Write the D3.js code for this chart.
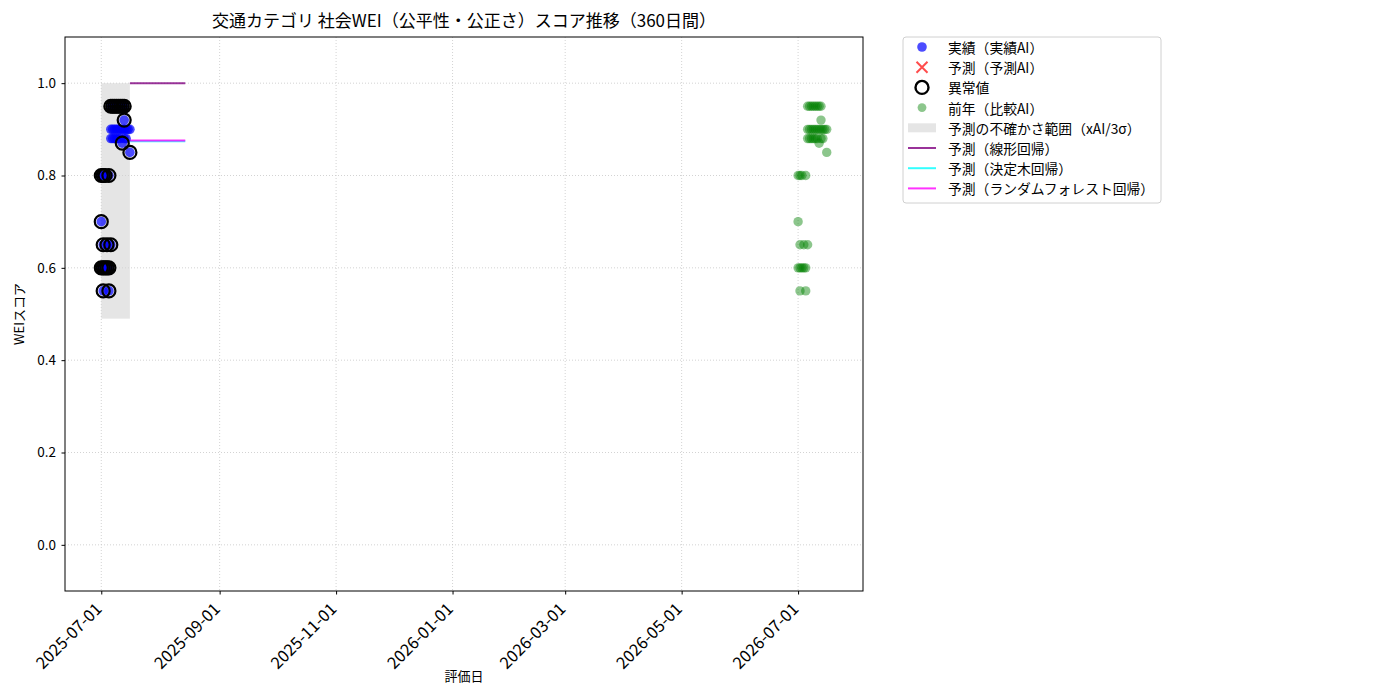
<!DOCTYPE html>
<html>
<head>
<meta charset="utf-8">
<script src="https://cdn.jsdelivr.net/npm/d3@7"></script>
<style>
  body { margin: 0; background: #fff; }
  svg text { font-family: "Noto Sans CJK JP", "DejaVu Sans", sans-serif; }
</style>
</head>
<body>
<div id="chart"></div>
<script>
// ----------------------------------------------- //
// Data
var actualDates = [
    "2025-07-01", "2025-07-01", "2025-07-01", "2025-07-02", "2025-07-02", "2025-07-02", "2025-07-02",
    "2025-07-03", "2025-07-03", "2025-07-04", "2025-07-04", "2025-07-05", "2025-07-05", "2025-07-05",
    "2025-07-06", "2025-07-06", "2025-07-06", "2025-07-06", "2025-07-07", "2025-07-07", "2025-07-07",
    "2025-07-08", "2025-07-08", "2025-07-08", "2025-07-09", "2025-07-09", "2025-07-09",
    "2025-07-10", "2025-07-10", "2025-07-10", "2025-07-11", "2025-07-11", "2025-07-11",
    "2025-07-12", "2025-07-12", "2025-07-12", "2025-07-13", "2025-07-13", "2025-07-13", "2025-07-13",
    "2025-07-14", "2025-07-14", "2025-07-15", "2025-07-16", "2025-07-16"
];
var actualValues = [
    0.80, 0.70, 0.60, 0.80, 0.65, 0.60, 0.55,
    0.80, 0.60, 0.65, 0.60, 0.80, 0.60, 0.55,
    0.95, 0.90, 0.88, 0.65, 0.95, 0.90, 0.88,
    0.95, 0.90, 0.88, 0.95, 0.90, 0.88,
    0.95, 0.90, 0.88, 0.95, 0.90, 0.88,
    0.95, 0.90, 0.87, 0.95, 0.92, 0.90, 0.88,
    0.90, 0.88, 0.90, 0.85, 0.90
];
// anomaly flags (1 = outlier ring)
var actualOutlier = [
    1, 1, 1, 1, 1, 1, 1,
    1, 1, 1, 1, 1, 1, 1,
    1, 0, 0, 1, 1, 0, 0,
    1, 0, 0, 1, 0, 0,
    1, 0, 0, 1, 0, 0,
    1, 0, 1, 1, 1, 0, 0,
    0, 0, 0, 1, 0
];

// previous year (comparison AI)
var prevDates = [
    "2026-07-01", "2026-07-01", "2026-07-01", "2026-07-02", "2026-07-02", "2026-07-02", "2026-07-02",
    "2026-07-03", "2026-07-03", "2026-07-04", "2026-07-04", "2026-07-05", "2026-07-05", "2026-07-05",
    "2026-07-06", "2026-07-06", "2026-07-06", "2026-07-06", "2026-07-07", "2026-07-07", "2026-07-07",
    "2026-07-08", "2026-07-08", "2026-07-08", "2026-07-09", "2026-07-09", "2026-07-09",
    "2026-07-10", "2026-07-10", "2026-07-10", "2026-07-11", "2026-07-11", "2026-07-11",
    "2026-07-12", "2026-07-12", "2026-07-12", "2026-07-13", "2026-07-13", "2026-07-13", "2026-07-13",
    "2026-07-14", "2026-07-14", "2026-07-15", "2026-07-16", "2026-07-16"
];
var prevValues = [
    0.80, 0.70, 0.60, 0.80, 0.65, 0.60, 0.55,
    0.80, 0.60, 0.65, 0.60, 0.80, 0.60, 0.55,
    0.95, 0.90, 0.88, 0.65, 0.95, 0.90, 0.88,
    0.95, 0.90, 0.88, 0.95, 0.90, 0.88,
    0.95, 0.90, 0.88, 0.95, 0.90, 0.88,
    0.95, 0.90, 0.87, 0.95, 0.92, 0.90, 0.88,
    0.90, 0.88, 0.90, 0.85, 0.90
];

// uncertainty band (xAI / 3 sigma)
var bandDates = ["2025-07-01", "2025-07-16"];
var bandLow = 0.49;
var bandHigh = 1.0;

// prediction lines
var predDates = ["2025-07-16", "2025-08-14"];
var predLinear = [1.0, 1.0];
var predTree = [0.874, 0.874];
var predForest = [0.876, 0.876];

// axes
var xDomain = ["2025-06-12", "2026-08-04"];
var xTickDates = ["2025-07-01", "2025-09-01", "2025-11-01", "2026-01-01", "2026-03-01", "2026-05-01", "2026-07-01"];
var yTicks = [0.0, 0.2, 0.4, 0.6, 0.8, 1.0];

var legendLabels = [
    "実績（実績AI）", "予測（予測AI）", "異常値", "前年（比較AI）",
    "予測の不確かさ範囲（xAI/3σ）", "予測（線形回帰）", "予測（決定木回帰）", "予測（ランダムフォレスト回帰）"
];

// ----------------------------------------------- //
var svgWidth = 1400;
var svgHeight = 700;
var margin = { top: 37, right: 537, bottom: 109, left: 65 };
var chartWidth = svgWidth - margin.left - margin.right;
var chartHeight = svgHeight - margin.top - margin.bottom;

var parseDate = d3.utcParse("%Y-%m-%d");

var svg = d3.select("#chart")
    .append("svg")
    .attr("width", svgWidth)
    .attr("height", svgHeight);

var chartGroup = svg.append("g")
    .attr("transform", `translate(${margin.left}, ${margin.top})`);

var xScale = d3.scaleUtc()
    .domain(xDomain.map(parseDate))
    .range([0, chartWidth]);

var yScale = d3.scaleLinear()
    .domain([-0.1, 1.1])
    .range([chartHeight, 0]);

// grid
chartGroup.append("g")
    .selectAll("line")
    .data(xTickDates)
    .enter()
    .append("line")
    .attr("x1", d => xScale(parseDate(d)))
    .attr("x2", d => xScale(parseDate(d)))
    .attr("y1", 0)
    .attr("y2", chartHeight)
    .attr("stroke", "#c8c8c8")
    .attr("stroke-width", 0.8)
    .attr("stroke-dasharray", "1,2");

chartGroup.append("g")
    .selectAll("line")
    .data(yTicks)
    .enter()
    .append("line")
    .attr("x1", 0)
    .attr("x2", chartWidth)
    .attr("y1", d => yScale(d))
    .attr("y2", d => yScale(d))
    .attr("stroke", "#c8c8c8")
    .attr("stroke-width", 0.8)
    .attr("stroke-dasharray", "1,2");

// uncertainty band
chartGroup.append("rect")
    .attr("x", xScale(parseDate(bandDates[0])))
    .attr("width", xScale(parseDate(bandDates[1])) - xScale(parseDate(bandDates[0])))
    .attr("y", yScale(bandHigh))
    .attr("height", yScale(bandLow) - yScale(bandHigh))
    .attr("fill", "#d3d3d3")
    .attr("opacity", 0.6);

// prediction lines
var predSeries = [
    { values: predLinear, color: "purple", opacity: 0.8 },
    { values: predTree, color: "cyan", opacity: 0.8 },
    { values: predForest, color: "magenta", opacity: 0.8 }
];
var line = d3.line()
    .x(d => xScale(parseDate(d.date)))
    .y(d => yScale(d.value));

predSeries.forEach(function(s) {
    chartGroup.append("path")
        .datum(predDates.map((d, i) => ({ date: d, value: s.values[i] })))
        .attr("d", line)
        .attr("fill", "none")
        .attr("stroke", s.color)
        .attr("stroke-opacity", s.opacity)
        .attr("stroke-width", 2);
});

// actual points
var actualData = actualDates.map((d, i) => ({ date: d, value: actualValues[i], outlier: actualOutlier[i] }));

chartGroup.append("g")
    .selectAll("circle")
    .data(actualData)
    .enter()
    .append("circle")
    .attr("cx", d => xScale(parseDate(d.date)))
    .attr("cy", d => yScale(d.value))
    .attr("r", 4.8)
    .attr("fill", "blue")
    .attr("fill-opacity", 0.7);

// outlier rings
chartGroup.append("g")
    .selectAll("circle")
    .data(actualData.filter(d => d.outlier))
    .enter()
    .append("circle")
    .attr("cx", d => xScale(parseDate(d.date)))
    .attr("cy", d => yScale(d.value))
    .attr("r", 6.5)
    .attr("fill", "none")
    .attr("stroke", "black")
    .attr("stroke-width", 2.2);

// previous year points
chartGroup.append("g")
    .selectAll("circle")
    .data(prevDates.map((d, i) => ({ date: d, value: prevValues[i] })))
    .enter()
    .append("circle")
    .attr("cx", d => xScale(parseDate(d.date)))
    .attr("cy", d => yScale(d.value))
    .attr("r", 4.7)
    .attr("fill", "green")
    .attr("fill-opacity", 0.45);

// axes
var bottomAxis = d3.axisBottom(xScale)
    .tickValues(xTickDates.map(parseDate))
    .tickFormat(d3.utcFormat("%Y-%m-%d"))
    .tickSizeOuter(0)
    .tickSize(3.5);
var leftAxis = d3.axisLeft(yScale)
    .tickValues(yTicks)
    .tickFormat(d3.format(".1f"))
    .tickSizeOuter(0)
    .tickSize(3.5);

var xAxis = chartGroup.append("g")
    .attr("transform", `translate(0, ${chartHeight})`)
    .call(bottomAxis);
xAxis.select(".domain").remove();
xAxis.selectAll("text")
    .attr("font-size", 16.5)
    .attr("fill", "#000")
    .attr("text-anchor", "end")
    .attr("x", 0)
    .attr("y", 0)
    .attr("dy", "0.35em")
    .attr("transform", "translate(-3, 15) rotate(-45)");

var yAxis = chartGroup.append("g").call(leftAxis);
yAxis.select(".domain").remove();
yAxis.selectAll("text")
    .attr("font-size", 13.5)
    .attr("fill", "#000")
    .attr("x", -9);

// frame
chartGroup.append("rect")
    .attr("width", chartWidth)
    .attr("height", chartHeight)
    .attr("fill", "none")
    .attr("stroke", "black")
    .attr("stroke-width", 1);

// titles
svg.append("text")
    .attr("x", margin.left + chartWidth / 2)
    .attr("y", 27)
    .attr("text-anchor", "middle")
    .attr("font-size", 17)
    .text("交通カテゴリ 社会WEI（公平性・公正さ）スコア推移（360日間）");

svg.append("text")
    .attr("x", margin.left + chartWidth / 2)
    .attr("y", 681)
    .attr("text-anchor", "middle")
    .attr("font-size", 13)
    .text("評価日");

svg.append("text")
    .attr("transform", `translate(24, ${margin.top + chartHeight / 2}) rotate(-90)`)
    .attr("text-anchor", "middle")
    .attr("font-size", 13)
    .text("WEIスコア");

// ----------------------------------------------- //
// Legend
var legend = svg.append("g").attr("transform", "translate(903, 37)");
legend.append("rect")
    .attr("width", 258)
    .attr("height", 166)
    .attr("rx", 3)
    .attr("fill", "#fff")
    .attr("stroke", "#d0d0d0");

var rowY = d => 10 + d * 20.2;
var mx = 19;

legend.append("circle").attr("cx", mx).attr("cy", rowY(0)).attr("r", 4.8)
    .attr("fill", "blue").attr("fill-opacity", 0.7);
legend.append("path").attr("d", `M${mx - 5.5},${rowY(1) - 5.5}L${mx + 5.5},${rowY(1) + 5.5}M${mx - 5.5},${rowY(1) + 5.5}L${mx + 5.5},${rowY(1) - 5.5}`)
    .attr("stroke", "red").attr("stroke-opacity", 0.7).attr("stroke-width", 2);
legend.append("circle").attr("cx", mx).attr("cy", rowY(2)).attr("r", 6.5)
    .attr("fill", "none").attr("stroke", "black").attr("stroke-width", 2.4);
legend.append("circle").attr("cx", mx).attr("cy", rowY(3)).attr("r", 4.4)
    .attr("fill", "green").attr("fill-opacity", 0.45);
legend.append("rect").attr("x", 5).attr("y", rowY(4) - 4.5).attr("width", 28).attr("height", 9)
    .attr("fill", "#d3d3d3").attr("opacity", 0.6);
["purple", "cyan", "magenta"].forEach(function(c, i) {
    legend.append("line")
        .attr("x1", 5).attr("x2", 33)
        .attr("y1", rowY(5 + i)).attr("y2", rowY(5 + i))
        .attr("stroke", c).attr("stroke-opacity", 0.8).attr("stroke-width", 2);
});

legend.selectAll("text.lbl")
    .data(legendLabels)
    .enter()
    .append("text")
    .attr("class", "lbl")
    .attr("x", 45)
    .attr("y", (d, i) => rowY(i))
    .attr("dominant-baseline", "central")
    .attr("font-size", 13.8)
    .text(d => d);
</script>
</body>
</html>
